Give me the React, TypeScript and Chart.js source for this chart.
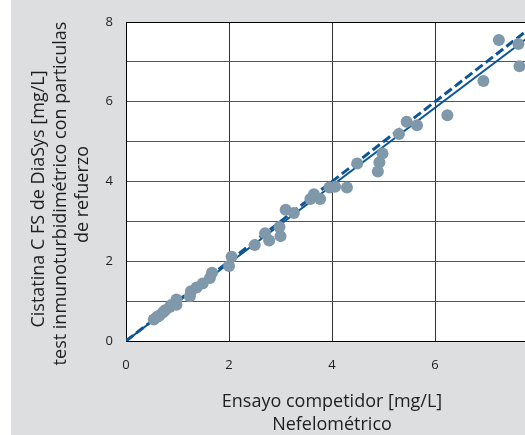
import React, { useEffect, useRef } from "react";
import { Chart, registerables } from "chart.js";

Chart.register(...registerables);

// Measured points: competitor assay (x) vs DiaSys Cystatin C FS (y), mg/L
const competitorValues = [0.54, 0.60, 0.65, 0.72, 0.76, 0.85, 0.88, 0.98, 0.98, 1.24, 1.26, 1.37, 1.49, 1.63, 1.67, 2.00, 2.05, 2.50, 2.70, 2.78, 2.98, 3.00, 3.10, 3.26, 3.58, 3.65, 3.77, 3.95, 4.06, 4.29, 4.49, 4.89, 4.92, 4.98, 5.30, 5.45, 5.65, 6.24, 6.94, 7.24, 7.62, 7.64];
const diasysValues = [0.54, 0.60, 0.64, 0.72, 0.77, 0.85, 0.90, 0.91, 1.04, 1.12, 1.25, 1.34, 1.44, 1.58, 1.71, 1.88, 2.11, 2.41, 2.70, 2.52, 2.86, 2.63, 3.29, 3.21, 3.56, 3.68, 3.56, 3.85, 3.87, 3.85, 4.45, 4.25, 4.48, 4.70, 5.19, 5.50, 5.41, 5.66, 6.52, 7.55, 7.45, 6.89];

// Regression line (solid) and identity line (dashed)
const regressionX = [0, 8];
const regressionY = [0, 7.8];
const identityX = [0, 8];
const identityY = [0, 8];

// Axis ranges / tick labels
const axisMin = 0;
const axisMax = 8;
const yTickLabels = ["0", "2", "4", "6", "8"];

const yTitleLines = [
  "Cistatina C FS de DiaSys [mg/L]",
  "test inmunoturbidimétrico con particulas",
  "de refuerzo",
];
const xTitleLines = ["Ensayo competidor [mg/L]", "Nefelométrico"];

const FONT = '"Open Sans", "Noto Sans", sans-serif';

export default function App() {
  const canvasRef = useRef<HTMLCanvasElement | null>(null);

  useEffect(() => {
    const canvas = canvasRef.current;
    if (!canvas) return;

    const areaBgPlugin = {
      id: "areaBg",
      beforeDraw(chart: any) {
        const { ctx, chartArea: a } = chart;
        ctx.save();
        ctx.fillStyle = "#ffffff";
        ctx.fillRect(a.left, a.top, a.right - a.left, a.bottom - a.top);
        ctx.restore();
      },
    };

    const titlePlugin = {
      id: "customTitles",
      afterDraw(chart: any) {
        const ctx = chart.ctx as CanvasRenderingContext2D;
        const area = chart.chartArea;
        ctx.save();
        ctx.fillStyle = "#1e1e1e";
        ctx.font = `18px ${FONT}`;
        ctx.textAlign = "center";
        ctx.textBaseline = "alphabetic";
        const yPos = [
          { x: 33, y: 199 },
          { x: 54.5, y: 193.5 },
          { x: 76.5, y: 194.5 },
        ];
        yTitleLines.forEach((line, i) => {
          ctx.save();
          ctx.translate(yPos[i].x, yPos[i].y);
          ctx.rotate(-Math.PI / 2);
          ctx.fillText(line, 0, 0);
          ctx.restore();
        });
        const cx = (area.left + area.right) / 2;
        const xBase = [407, 430];
        xTitleLines.forEach((line, i) => {
          ctx.fillText(line, cx, xBase[i]);
        });
        ctx.restore();
      },
    };

    const chart = new Chart(canvas, {
      type: "scatter",
      data: {
        datasets: [
          {
            label: "Muestras",
            data: competitorValues.map((x, i) => ({ x, y: diasysValues[i] })),
            backgroundColor: "#7f98aa",
            borderWidth: 0,
            pointRadius: 6,
            pointHoverRadius: 6,
            order: 0,
          },
          {
            label: "Regresión",
            data: regressionX.map((x, i) => ({ x, y: regressionY[i] })),
            showLine: true,
            borderColor: "#0e5596",
            borderWidth: 2,
            pointRadius: 0,
            order: 2,
          },
          {
            label: "Identidad",
            data: identityX.map((x, i) => ({ x, y: identityY[i] })),
            showLine: true,
            borderColor: "#0e5596",
            borderWidth: 3,
            borderDash: [9, 4],
            pointRadius: 0,
            order: 1,
          },
        ],
      },
      options: {
        animation: false,
        responsive: false,
        maintainAspectRatio: false,
        layout: { padding: { top: 22, right: 33, left: 0, bottom: 0 } },
        plugins: {
          legend: { display: false },
          tooltip: { enabled: false },
          title: { display: false },
        },
        scales: {
          x: {
            type: "linear",
            min: axisMin,
            max: axisMax,
            afterFit: (scale: any) => {
              scale.height = 94;
            },
            ticks: {
              stepSize: 2,
              padding: 16,
              color: "#1e1e1e",
              font: { family: FONT, size: 13 },
            },
            grid: {
              color: "#333333",
              lineWidth: 1,
              drawTicks: false,
            },
            border: { display: true, color: "#000000", width: 1 },
          },
          y: {
            type: "linear",
            min: axisMin,
            max: axisMax,
            afterFit: (scale: any) => {
              scale.width = 115;
            },
            ticks: {
              stepSize: 1,
              padding: 13,
              color: "#1e1e1e",
              font: { family: FONT, size: 13 },
              callback: (v: any) => {
                const s = String(v);
                return yTickLabels.includes(s) ? s : "";
              },
            },
            grid: {
              color: (c: any) =>
                c.tick && (c.tick.value === 8 || c.tick.value === 0) ? "#000000" : "#555555",
              lineWidth: 1,
              drawTicks: false,
            },
            border: { display: true, color: "#000000", width: 1 },
          },
        },
      },
      plugins: [areaBgPlugin, titlePlugin],
    });

    return () => {
      chart.destroy();
    };
  }, []);

  return (
    <div
      style={{
        position: "fixed",
        left: 11,
        top: 0,
        width: 514,
        height: 435,
        overflow: "hidden",
        background: "#dcdee0",
      }}
    >
      <canvas ref={canvasRef} width={560} height={435} style={{ display: "block" }} />
    </div>
  );
}
